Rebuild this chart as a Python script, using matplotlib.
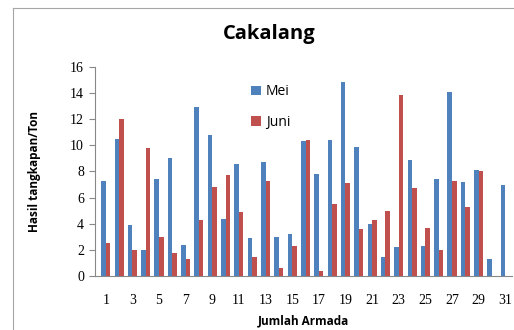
import matplotlib
matplotlib.use("Agg")
import matplotlib.pyplot as plt
import numpy as np
from matplotlib.lines import Line2D

# Hasil tangkapan cakalang per armada (ton)
armada = list(range(1, 32))
mei = [7.3, 10.5, 3.9, 2.0, 7.4, 9.0, 2.4, 12.9, 10.8, 4.4,
       8.6, 2.9, 8.7, 3.0, 3.2, 10.3, 7.8, 10.4, 14.8, 9.9,
       4.0, 1.5, 2.2, 8.9, 2.3, 7.4, 14.1, 7.2, 8.1, 1.3, 7.0]
juni = [2.5, 12.0, 2.0, 9.8, 3.0, 1.8, 1.3, 4.3, 6.8, 7.7,
        4.9, 1.5, 7.3, 0.6, 2.3, 10.4, 0.4, 5.5, 7.1, 3.6,
        4.3, 5.0, 13.8, 6.7, 3.7, 2.0, 7.3, 5.3, 8.0, 0.0, 0.0]
xticks = list(range(1, 32, 2))
yticks = list(range(0, 17, 2))

blue = "#4F81BD"
red = "#C0504D"
grey = "#A6A6A6"

fig = plt.figure(figsize=(5.14, 3.30), dpi=100)
ax = fig.add_axes([0.185, 0.163, 0.811, 0.635])

x = np.array(armada)
w = 0.34
ax.bar(x - w / 2, mei, width=w, color=blue, label="Mei")
ax.bar(x + w / 2, juni, width=w, color=red, label="Juni")

ax.set_xlim(0.2, 31.5)
ax.set_ylim(0, 16)
ax.set_xticks(xticks)
ax.set_yticks(yticks)
ax.tick_params(axis="x", length=0, pad=13, labelsize=10)
ax.tick_params(axis="y", length=4, width=0.8, color="#888888", pad=4, labelsize=10)
for lab in ax.get_xticklabels() + ax.get_yticklabels():
    lab.set_family("Liberation Serif")

for side in ("top", "right"):
    ax.spines[side].set_visible(False)
for side in ("left", "bottom"):
    ax.spines[side].set_color("#888888")
    ax.spines[side].set_linewidth(0.8)

ax.set_xlabel("Jumlah Armada", fontsize=8.5, fontweight="bold",
              family="Open Sans", labelpad=5)
ax.set_ylabel("Hasil tangkapan/Ton", fontsize=8.5, fontweight="bold",
              family="Open Sans", labelpad=21)

fig.text(0.523, 0.897, "Cakalang", ha="center", va="center",
         fontsize=14.5, fontweight="bold", family="Open Sans")

ax.legend(loc="upper left", bbox_to_anchor=(0.345, 0.975), frameon=False,
          handlelength=0.7, handleheight=0.7,
          handletextpad=0.35, labelspacing=1.1,
          prop={"family": "Open Sans", "size": 10})

# chart frame
fig.add_artist(Line2D([13 / 514, 13 / 514], [0, 1 - 8 / 330],
                      transform=fig.transFigure, color=grey, lw=0.8))
fig.add_artist(Line2D([13 / 514, 1], [1 - 8 / 330, 1 - 8 / 330],
                      transform=fig.transFigure, color=grey, lw=0.8))

fig.savefig("out.png", dpi=100)
